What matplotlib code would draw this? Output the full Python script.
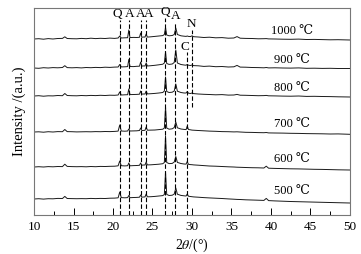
import matplotlib
matplotlib.use('Agg')
import matplotlib.pyplot as plt
import numpy as np

plt.rcParams['font.family'] = ['Liberation Serif', 'DejaVu Serif']
plt.rcParams['mathtext.fontset'] = 'stix'
plt.rcParams['font.size'] = 9

# 2theta sample points shared by all patterns
two_theta = [
    10, 10.6, 11.2, 11.8, 12.4, 13.0, 13.6, 13.9, 14.2, 14.8,
    15.4, 16.0, 16.6, 17.2, 17.8, 18.4, 19.0, 19.6, 20.2, 20.65,
    20.85, 21.05, 21.5, 21.85, 22.0, 22.15, 22.6, 23.0, 23.35, 23.5,
    23.65, 23.9, 24.05, 24.2, 24.35, 24.8, 25.3, 25.8, 26.3, 26.5,
    26.65, 26.8, 27.1, 27.5, 27.75, 27.95, 28.15, 28.6, 29.0, 29.25,
    29.4, 29.55, 29.8, 30.0, 30.2, 30.8, 31.5, 32.2, 33.0, 33.8,
    34.6, 35.3, 35.7, 36.1, 36.8, 37.6, 38.4, 39.1, 39.4, 39.7,
    40.5, 41.5, 42.5, 43.5, 44.5, 45.5, 46.5, 47.5, 48.5, 50]

# intensities (a.u.), each pattern relative to its own baseline
i_500 = [
    0, 0.3, -0.1, 0.3, 0.2, 0.6, 0.5, 2.6, 0.5, 0.4,
    0.3, 0.4, 0.3, 0.6, 0.4, 0.6, 0.5, 0.8, 0.9, 1.2,
    7.0, 1.4, 1.2, 1.4, 3.5, 1.3, 1.5, 1.6, 1.8, 4.0,
    1.9, 2.0, 2.1, 5.0, 2.2, 2.3, 2.6, 3.0, 3.4, 4.5,
    27.0, 4.6, 3.5, 3.8, 5.0, 11.0, 4.8, 3.6, 3.2, 3.0,
    5.0, 2.8, 2.5, 2.3, 2.1, 1.8, 1.4, 1.1, 0.8, 0.5,
    0.1, -0.2, -0.4, -0.5, -0.8, -1.0, -1.2, -1.4, 0.6, -1.6,
    -1.9, -2.2, -2.5, -2.7, -2.9, -3.1, -3.3, -3.5, -3.7, -4.0]
i_600 = [
    0, 0.3, 0, 0.4, 0.2, 0.5, 0.4, 2.8, 0.6, 0.4,
    0.3, 0.4, 0.2, 0.5, 0.3, 0.6, 0.5, 0.7, 0.8, 1.2,
    6.0, 1.3, 1.1, 1.3, 4.0, 1.2, 1.4, 1.5, 1.7, 4.0,
    1.8, 2.0, 2.0, 5.0, 2.1, 2.2, 2.5, 2.8, 3.3, 4.5,
    31.0, 4.5, 3.4, 3.6, 5.0, 10.5, 4.6, 3.5, 3.0, 2.9,
    5.5, 2.7, 2.4, 2.3, 2.1, 1.8, 1.4, 1.0, 0.8, 0.5,
    0.2, 0, -0.2, -0.3, -0.5, -0.7, -0.8, -1.0, 0.8, -1.2,
    -1.4, -1.6, -1.8, -1.9, -2.1, -2.3, -2.4, -2.6, -2.8, -3.0]
i_700 = [
    0, 0.2, -0.2, 0.3, 0, 0.4, 0.3, 2.5, 0.4, 0.3,
    0.1, 0.2, 0.3, 0.2, 0.4, 0.3, 0.5, 0.4, 0.6, 0.9,
    7.0, 1.0, 0.8, 1.0, 3.0, 1.0, 1.1, 1.2, 1.5, 4.0,
    1.5, 1.6, 1.7, 5.0, 1.8, 1.9, 2.0, 2.4, 2.8, 4.0,
    25.0, 4.0, 2.8, 3.2, 4.5, 10.0, 4.2, 3.0, 2.6, 2.4,
    6.0, 2.5, 2.2, 1.9, 1.8, 1.5, 1.2, 0.9, 0.7, 0.4,
    0.3, 0.1, 0.2, 0, -0.3, -0.4, -0.6, -0.7, -0.5, -0.9,
    -1.0, -1.1, -1.3, -1.4, -1.6, -1.7, -1.8, -2.0, -1.9, -2.3]
i_800 = [
    0, 0.3, -0.2, 0.2, 0.1, 0.5, 0.3, 2.5, 0.5, 0.3,
    0.2, 0.5, 0.3, 0.6, 0.4, 0.7, 0.5, 0.8, 0.7, 1.0,
    4.0, 1.0, 1.2, 1.3, 7.0, 1.4, 1.5, 1.6, 1.8, 5.0,
    1.9, 2.0, 2.0, 5.0, 2.1, 2.3, 2.6, 3.0, 3.5, 5.0,
    19.0, 4.5, 3.5, 3.8, 5.0, 12.0, 4.8, 3.5, 3.0, 3.0,
    4.5, 2.8, 2.5, 3.0, 2.4, 2.0, 1.7, 1.5, 1.2, 1.4,
    0.9, 1.0, 1.6, 0.8, 0.7, 0.5, 0.3, 0.4, 0.6, 0.2,
    0.1, -0.1, -0.2, 0, -0.4, -0.3, -0.5, -0.6, -0.8, -1.0]
i_900 = [
    0, -0.3, 0.3, 0, 0.4, 0.2, 0.5, 2.3, 0.4, 0.2,
    0.4, 0.1, 0.5, 0.3, 0.6, 0.4, 0.8, 0.6, 0.9, 1.0,
    3.5, 1.1, 1.2, 1.4, 8.5, 1.5, 1.4, 1.7, 1.8, 6.0,
    1.9, 2.1, 2.0, 5.0, 2.0, 2.3, 2.7, 3.2, 3.8, 5.0,
    16.0, 4.5, 3.6, 4.0, 5.5, 18.0, 5.0, 3.5, 3.0, 2.8,
    3.6, 2.8, 2.5, 3.0, 2.4, 2.2, 1.6, 1.9, 1.3, 1.5,
    1.0, 1.2, 2.6, 0.9, 0.8, 0.5, 0.4, 0.2, 0.5, 0.1,
    0.2, 0, -0.1, 0.1, -0.3, -0.2, -0.4, -0.3, -0.5, -0.5]
i_1000 = [
    0, 0.3, -0.2, 0.4, 0, 0.5, 0.6, 2.2, 0.5, 0.3,
    0.2, 0.6, 0.3, 0.8, 0.4, 0.7, 0.5, 0.9, 0.6, 1.0,
    3.0, 1.0, 1.2, 1.3, 9.0, 1.4, 1.6, 1.5, 1.7, 6.0,
    1.8, 2.0, 1.9, 5.0, 1.9, 2.2, 2.6, 3.0, 3.4, 4.5,
    11.5, 4.0, 3.2, 3.5, 4.5, 11.0, 4.5, 3.2, 2.8, 2.6,
    3.0, 2.6, 2.4, 3.2, 2.3, 2.0, 1.5, 1.8, 1.2, 1.4,
    0.8, 1.0, 2.4, 0.8, 0.6, 0.5, 0.2, 0.3, 0.4, 0.1,
    0, -0.2, -0.3, -0.1, -0.5, -0.4, -0.6, -0.8, -0.7, -1.0]

patterns = [i_500, i_600, i_700, i_800, i_900, i_1000]
temp_labels = ['500 ℃', '600 ℃', '700 ℃', '800 ℃', '900 ℃', '1000 ℃']

# phase marks: letter, 2theta of reference line
phase_names = ['Q', 'A', 'A', 'A', 'Q', 'A', 'C', 'N']
phase_pos = [20.85, 22.0, 23.5, 24.2, 26.6, 27.9, 29.4, 30.0]

# layout (stacking offsets, line extents, label spots)
offsets = [16, 48, 83, 119, 147, 176]
line_span = [(0, 195), (0, 195), (0, 195), (0, 195), (0, 197), (0, 193), (0, 163), (108, 185)]
letter_xy = [(20.55, 201), (22.06, 201), (23.5, 201), (24.55, 201), (26.67, 203),
             (27.97, 199), (29.1, 168), (29.96, 191)]
temp_x = [40.4, 40.4, 40.4, 40.4, 40.4, 40.0]

fig = plt.figure(figsize=(3.61, 2.54), dpi=100)
ax = fig.add_axes([0.0942, 0.1535, 0.8753, 0.815])

for y, off, lab, tx in zip(patterns, offsets, temp_labels, temp_x):
    ax.plot(two_theta, np.array(y) + off, color='#1a1a1a', lw=0.7)
    ax.text(tx, off + 2.5, lab, ha='left', va='bottom', fontsize=9)

for pos, (y0, y1) in zip(phase_pos, line_span):
    ax.plot([pos, pos], [y0, y1], color='black', lw=0.8, dashes=(4, 2))

for name, (lx, ly) in zip(phase_names, letter_xy):
    ax.text(lx, ly, name, ha='center', va='center', fontsize=9.5)

ax.set_xlim(10, 50)
ax.set_ylim(0, 207)
ax.set_xticks(np.arange(10, 51, 5))
ax.set_xticks(np.arange(12.5, 50, 5), minor=True)
ax.tick_params(axis='x', which='major', direction='in', length=5, width=0.7, pad=4,
               labelsize=9.5)
ax.tick_params(axis='x', which='minor', direction='in', length=3, width=0.7)
ax.set_yticks([])
for s in ax.spines.values():
    s.set_color('#777777')
    s.set_linewidth(0.8)

ax.set_xlabel('2$\\mathit{\\theta}$/(°)', labelpad=3, fontsize=10)
ax.set_ylabel('Intensity /(a.u.)', labelpad=6, fontsize=10.5)

fig.savefig('out.png', dpi=100)
